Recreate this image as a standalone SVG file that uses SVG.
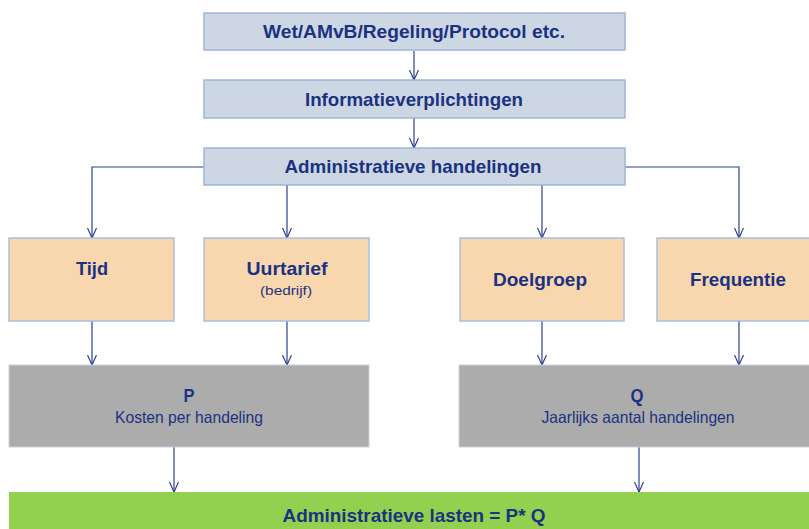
<svg xmlns="http://www.w3.org/2000/svg" width="809" height="529" viewBox="0 0 809 529">
<defs>
<marker id="ah" viewBox="0 0 10 10" refX="10" refY="5" markerWidth="10" markerHeight="10" markerUnits="userSpaceOnUse" orient="auto">
<path d="M0,0.5 L10,5 L0,9.5" fill="none" stroke="#2a3f8f" stroke-width="1.2"/>
</marker>
<style>
.blue{fill:#cdd7e3;stroke:#9fb5d9;stroke-width:1.5}
.orange{fill:#f8d7ae;stroke:#a9bedf;stroke-width:1.5}
.gray{fill:#acacac;stroke:#c9d3e3;stroke-width:1}
.green{fill:#92d050}
.t{font-family:"Liberation Sans",Arial,sans-serif;fill:#1b3282;text-anchor:middle}
.b{font-weight:bold;font-size:18.5px}
.r{font-size:13.5px}
.c{fill:none;stroke:#2a3f8f;stroke-width:1.2;marker-end:url(#ah)}
</style>
</defs>
<rect width="809" height="529" fill="#ffffff"/>
<g id="connectors">
<path class="c" d="M414,51 V80"/>
<path class="c" d="M414,118 V148"/>
<path class="c" d="M204,167 H92 V238"/>
<path class="c" d="M287,185 V238"/>
<path class="c" d="M542,185 V238"/>
<path class="c" d="M625,167 H739 V238"/>
<path class="c" d="M92,321 V365"/>
<path class="c" d="M287,321 V365"/>
<path class="c" d="M542,321 V365"/>
<path class="c" d="M739,321 V365"/>
<path class="c" d="M174,447 V492"/>
<path class="c" d="M639,447 V492"/>
</g>
<g id="wet">
<rect class="blue" x="204" y="13" width="421" height="37"/>
<text class="t b" x="414" y="38" textLength="302" lengthAdjust="spacingAndGlyphs">Wet/AMvB/Regeling/Protocol etc.</text>
</g>
<g id="informatieverplichtingen">
<rect class="blue" x="204" y="80" width="421" height="38"/>
<text class="t b" x="414" y="106" textLength="218" lengthAdjust="spacingAndGlyphs">Informatieverplichtingen</text>
</g>
<g id="handelingen">
<rect class="blue" x="204" y="148" width="421" height="37"/>
<text class="t b" x="413" y="173" textLength="257" lengthAdjust="spacingAndGlyphs">Administratieve handelingen</text>
</g>
<g id="tijd">
<rect class="orange" x="9" y="238" width="165" height="83"/>
<text class="t b" x="92" y="275" textLength="32" lengthAdjust="spacingAndGlyphs">Tijd</text>
</g>
<g id="uurtarief">
<rect class="orange" x="204" y="238" width="165" height="83"/>
<text class="t b" x="287" y="275" textLength="81" lengthAdjust="spacingAndGlyphs">Uurtarief</text>
<text class="t r" x="286" y="295" textLength="52" lengthAdjust="spacingAndGlyphs">(bedrijf)</text>
</g>
<g id="doelgroep">
<rect class="orange" x="460" y="238" width="164" height="83"/>
<text class="t b" x="540" y="286" textLength="94" lengthAdjust="spacingAndGlyphs">Doelgroep</text>
</g>
<g id="frequentie">
<rect class="orange" x="657" y="238" width="165" height="83"/>
<text class="t b" x="738" y="286" textLength="96" lengthAdjust="spacingAndGlyphs">Frequentie</text>
</g>
<g id="p">
<rect class="gray" x="9" y="365" width="360" height="82"/>
<text class="t b" x="189" y="402" textLength="11" lengthAdjust="spacingAndGlyphs">P</text>
<text class="t" x="189" y="423" font-size="16.5" textLength="148" lengthAdjust="spacingAndGlyphs">Kosten per handeling</text>
</g>
<g id="q">
<rect class="gray" x="459" y="365" width="360" height="82"/>
<text class="t b" x="637" y="402" textLength="13" lengthAdjust="spacingAndGlyphs">Q</text>
<text class="t" x="638" y="423" font-size="16.5" textLength="193" lengthAdjust="spacingAndGlyphs">Jaarlijks aantal handelingen</text>
</g>
<g id="lasten">
<rect class="green" x="9" y="492" width="810" height="40"/>
<text class="t b" x="414" y="522" textLength="263" lengthAdjust="spacingAndGlyphs">Administratieve lasten = P* Q</text>
</g>
</svg>
